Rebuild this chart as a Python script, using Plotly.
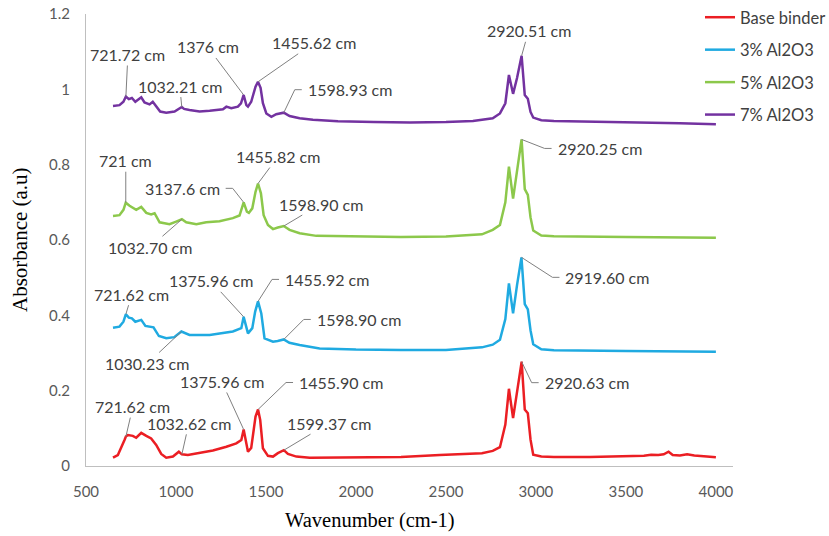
import numpy as np
import plotly.graph_objects as go

# FTIR spectra: wavenumber (cm-1) and absorbance (a.u) for each binder
wn_base = [650, 677, 714, 721.62, 733, 760, 779, 807, 835, 862, 890, 918, 946, 983, 1016,
           1032.62, 1066, 1131, 1205, 1280, 1335, 1363, 1375.96, 1400, 1418, 1442, 1455.90,
           1468, 1483, 1511, 1539, 1566, 1599.37, 1622, 1669, 1743, 2000, 2250, 2466, 2700,
           2760, 2800, 2830, 2850, 2873, 2895, 2920.63, 2938, 2955, 2970, 2985, 3030, 3100,
           3300, 3500, 3560, 3600, 3640, 3680, 3710, 3737, 3760, 3800, 3840, 3880, 3950, 4000]
ab_base = [0.022, 0.029, 0.069, 0.078, 0.082, 0.080, 0.075, 0.088, 0.080, 0.073, 0.056, 0.032,
           0.022, 0.025, 0.038, 0.031, 0.029, 0.034, 0.041, 0.051, 0.060, 0.069, 0.097, 0.038,
           0.048, 0.131, 0.150, 0.122, 0.047, 0.027, 0.025, 0.034, 0.042, 0.032, 0.025, 0.022,
           0.022, 0.024, 0.029, 0.034, 0.040, 0.050, 0.110, 0.205, 0.127, 0.200, 0.277, 0.150,
           0.140, 0.070, 0.030, 0.025, 0.024, 0.024, 0.026, 0.028, 0.027, 0.030, 0.029, 0.031,
           0.038, 0.029, 0.028, 0.031, 0.028, 0.025, 0.023]

wn_3 = [650, 686, 708, 721.62, 738, 755, 774, 807, 830, 855, 875, 905, 946, 990, 1030.23,
        1075, 1187, 1316, 1363, 1375.96, 1400, 1424, 1440, 1455.92, 1474, 1492, 1539, 1565,
        1598.90, 1630, 1687, 1798, 2000, 2250, 2500, 2700, 2760, 2800, 2830, 2850, 2873, 2895,
        2919.60, 2938, 2955, 2970, 2985, 3030, 3100, 3500, 4000]
ab_3 = [0.367, 0.370, 0.383, 0.403, 0.394, 0.392, 0.383, 0.388, 0.372, 0.370, 0.368, 0.345,
        0.339, 0.342, 0.357, 0.348, 0.348, 0.357, 0.366, 0.396, 0.352, 0.366, 0.410, 0.437,
        0.405, 0.339, 0.330, 0.332, 0.336, 0.327, 0.321, 0.312, 0.309, 0.308, 0.308, 0.315,
        0.322, 0.335, 0.390, 0.485, 0.405, 0.480, 0.554, 0.430, 0.416, 0.360, 0.323, 0.310,
        0.307, 0.305, 0.303]

wn_5 = [650, 686, 708, 721, 742, 760, 779, 807, 835, 862, 881, 909, 964, 1001, 1032.70, 1057,
        1113, 1168, 1242, 1316, 1353, 1376, 1394, 1405, 1424, 1442, 1455.82, 1472, 1487, 1511,
        1539, 1566, 1598.90, 1631, 1687, 1780, 2000, 2250, 2500, 2700, 2760, 2800, 2830, 2850,
        2873, 2895, 2920.25, 2938, 2955, 2970, 2985, 3030, 3100, 3500, 4000]
ab_5 = [0.664, 0.666, 0.680, 0.699, 0.691, 0.686, 0.680, 0.688, 0.672, 0.668, 0.671, 0.647,
        0.642, 0.649, 0.655, 0.647, 0.642, 0.647, 0.650, 0.658, 0.665, 0.700, 0.675, 0.672,
        0.684, 0.728, 0.750, 0.724, 0.666, 0.640, 0.629, 0.633, 0.637, 0.627, 0.618, 0.611,
        0.609, 0.608, 0.609, 0.615, 0.627, 0.640, 0.700, 0.795, 0.710, 0.790, 0.867, 0.735,
        0.720, 0.660, 0.625, 0.612, 0.610, 0.608, 0.606]

wn_7 = [650, 686, 708, 721.72, 738, 755, 774, 807, 825, 853, 871, 890, 912, 946, 992, 1032.21,
        1045, 1075, 1131, 1187, 1261, 1280, 1307, 1344, 1361, 1376, 1391, 1400, 1418, 1442,
        1455.62, 1470, 1483, 1502, 1530, 1557, 1598.93, 1631, 1687, 1761, 1900, 2100, 2300,
        2500, 2650, 2760, 2800, 2830, 2850, 2873, 2895, 2920.51, 2938, 2955, 2970, 2985, 3030,
        3100, 3500, 3800, 4000]
ab_7 = [0.956, 0.958, 0.967, 0.981, 0.974, 0.977, 0.967, 0.979, 0.965, 0.960, 0.967, 0.954,
        0.941, 0.938, 0.941, 0.953, 0.948, 0.945, 0.941, 0.943, 0.947, 0.954, 0.950, 0.954,
        0.963, 0.985, 0.958, 0.954, 0.967, 1.007, 1.020, 1.004, 0.963, 0.936, 0.927, 0.934,
        0.938, 0.929, 0.923, 0.919, 0.915, 0.913, 0.912, 0.913, 0.916, 0.923, 0.936, 0.963,
        1.038, 0.988, 1.030, 1.089, 0.985, 0.975, 0.940, 0.925, 0.918, 0.916, 0.913, 0.910,
        0.907]

series_names = ["Base binder", "3% Al2O3", "5% Al2O3", "7% Al2O3"]
series_wn = [wn_base, wn_3, wn_5, wn_7]
series_ab = [ab_base, ab_3, ab_5, ab_7]
colors = ["#EB1E23", "#1FAAE1", "#8CC84B", "#7332A0"]

# Peak labels: (text, wavenumber the leader points at, dx, dy, leader style)
#   "straight": dx/dy = text centre offset in px, plain leader line
#   "elbow_r":  text sits right of the peak, dx = its left edge offset
#   "elbow_l":  text sits left of the peak, dx = its right edge offset
labels_base = [("721.62 cm", 721.62, 7, -30, "straight"),
               ("1032.62 cm", 1032.62, 7, -31, "straight"),
               ("1375.96 cm", 1375.96, -22, -48, "straight"),
               ("1455.90 cm", 1455.90, 39, -27, "elbow_r"),
               ("1599.37 cm", 1599.37, 45, -27, "straight"),
               ("2920.63 cm", 2920.63, 21, 21, "elbow_r")]
labels_3 = [("721.62 cm", 721.62, 6, -20, "straight"),
            ("1030.23 cm", 1030.23, -34, 32, "straight"),
            ("1375.96 cm", 1375.96, -33, -36, "straight"),
            ("1455.92 cm", 1455.92, 25, -22, "elbow_r"),
            ("1598.90 cm", 1598.90, 31, -20, "elbow_r"),
            ("2919.60 cm", 2919.60, 42, 20, "elbow_r")]
labels_5 = [("721 cm", 721, 0, -42, "straight"),
            ("1032.70 cm", 1032.70, -32, 28, "straight"),
            ("3137.6 cm", 1376, -22, -14, "elbow_l"),
            ("1455.82 cm", 1455.82, 20, -27, "straight"),
            ("1598.90 cm", 1598.90, 37, -22, "straight"),
            ("2920.25 cm", 2920.25, 34, 9, "elbow_r")]
labels_7 = [("721.72 cm", 721.72, 2, -42, "straight"),
            ("1032.21 cm", 1032.21, -2, -21, "straight"),
            ("1376 cm", 1376, -36, -48, "straight"),
            ("1455.62 cm", 1455.62, 56, -39, "straight"),
            ("1598.93 cm", 1598.93, 22, -23, "elbow_r"),
            ("2920.51 cm", 2920.51, 7, -25, "straight")]
series_labels = [labels_base, labels_3, labels_5, labels_7]

x_ticks = [500, 1000, 1500, 2000, 2500, 3000, 3500, 4000]
y_ticks = [0, 0.2, 0.4, 0.6, 0.8, 1.0, 1.2]

TEXT_FONT = "Lato, 'Open Sans', sans-serif"
SERIF = "'Liberation Serif', 'Times New Roman', serif"
LEADER = dict(color="#808080", width=1)
LABEL_FONT = dict(family=TEXT_FONT, size=16, color="#404040")

fig = go.Figure()
for i, (name, wn, ab, col) in enumerate(zip(series_names, series_wn, series_ab, colors)):
    fig.add_trace(go.Scatter(
        x=wn, y=ab, mode="lines", name=name, legendgroup=f"g{i}",
        line=dict(color=col, width=2.5),
    ))


def pixel_segment(xa, ya, p0, p1):
    """Line segment given in pixel offsets (y down) from a data anchor point."""
    return dict(type="line", xref="x", yref="y", xsizemode="pixel", ysizemode="pixel",
                xanchor=xa, yanchor=ya, x0=p0[0], x1=p1[0], y0=-p0[1], y1=-p1[1],
                line=LEADER, layer="above")


annotations = []
shapes = []
for wn, ab, labels in zip(series_wn, series_ab, series_labels):
    for text, pos, dx, dy, style in labels:
        peak = float(np.interp(pos, wn, ab))
        if style == "straight":
            annotations.append(dict(
                x=pos, y=peak, xref="x", yref="y", text=text, showarrow=True,
                arrowhead=0, arrowwidth=1, arrowcolor=LEADER["color"],
                ax=dx, ay=dy, standoff=0, font=LABEL_FONT,
            ))
        else:
            side = 1 if style == "elbow_r" else -1
            annotations.append(dict(
                x=pos, y=peak, xref="x", yref="y", text=text, showarrow=False,
                xanchor="left" if side > 0 else "right", yanchor="middle",
                xshift=dx, yshift=-dy, font=LABEL_FONT,
            ))
            start = (dx - side * 4, dy)
            knee = (dx - side * 11, dy)
            shapes.append(pixel_segment(pos, peak, start, knee))
            shapes.append(pixel_segment(pos, peak, knee, (0, 0)))

annotations.append(dict(
    x=0.439, y=-0.12, xref="paper", yref="paper", text="Wavenumber (cm-1)",
    showarrow=False, xanchor="center", yanchor="middle",
    font=dict(family=SERIF, size=20.5, color="#000000"),
))
annotations.append(dict(
    x=-0.102, y=0.5, xref="paper", yref="paper", text="Absorbance (a.u)",
    showarrow=False, xanchor="center", yanchor="middle", textangle=-90,
    font=dict(family=SERIF, size=21, color="#000000"),
))

fig.update_layout(
    width=829, height=536,
    margin=dict(l=86, r=96, t=14, b=70, autoexpand=False),
    paper_bgcolor="white", plot_bgcolor="white",
    annotations=annotations,
    shapes=shapes,
    showlegend=True,
    legend=dict(
        x=0.949, y=1.031, xanchor="left", yanchor="top",
        font=dict(family=TEXT_FONT, size=16.5, color="#404040"),
        tracegroupgap=8, bgcolor="rgba(0,0,0,0)",
    ),
    xaxis=dict(
        range=[500, 4095], tickvals=x_ticks, showgrid=False, zeroline=False,
        showline=True, linecolor="#bfbfbf", linewidth=1, ticks="",
        ticklabelstandoff=12,
        tickfont=dict(family=TEXT_FONT, size=15, color="#595959"),
    ),
    yaxis=dict(
        range=[0, 1.2], tickvals=y_ticks, showgrid=False, zeroline=False,
        showline=True, linecolor="#bfbfbf", linewidth=1, ticks="",
        ticklabelstandoff=12,
        tickfont=dict(family=TEXT_FONT, size=15, color="#595959"),
    ),
)

fig.write_html("out.html")
